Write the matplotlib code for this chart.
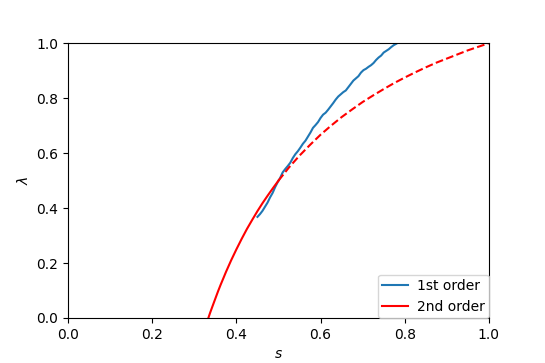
import matplotlib
matplotlib.use("Agg")
import matplotlib.pyplot as plt
import numpy as np

# 1st order (blue)
s1 = [0.450, 0.456, 0.462, 0.468, 0.474, 0.480, 0.486, 0.492, 0.498, 0.504,
      0.510, 0.516, 0.522, 0.528, 0.534, 0.540, 0.546, 0.552, 0.558, 0.564,
      0.570, 0.576, 0.582, 0.588, 0.594, 0.600, 0.606, 0.612, 0.618, 0.624,
      0.630, 0.636, 0.642, 0.648, 0.654, 0.660, 0.666, 0.672, 0.678, 0.684,
      0.690, 0.696, 0.702, 0.708, 0.714, 0.720, 0.726, 0.732, 0.738, 0.744,
      0.750, 0.756, 0.762, 0.768, 0.774, 0.780, 0.786]
lam1 = [0.368, 0.378, 0.390, 0.405, 0.420, 0.439, 0.455, 0.476, 0.494, 0.510,
        0.530, 0.542, 0.553, 0.565, 0.582, 0.596, 0.607, 0.620, 0.634, 0.645,
        0.660, 0.675, 0.692, 0.702, 0.713, 0.728, 0.740, 0.747, 0.758, 0.770,
        0.782, 0.795, 0.806, 0.814, 0.822, 0.828, 0.840, 0.852, 0.864, 0.872,
        0.880, 0.893, 0.902, 0.907, 0.914, 0.920, 0.928, 0.939, 0.948, 0.955,
        0.966, 0.972, 0.978, 0.986, 0.993, 0.998, 1.004]

# 2nd order (red), solid part and dashed part
s2_solid = [0.3333, 0.3375, 0.3425, 0.35, 0.3563, 0.3625, 0.3688, 0.375,
            0.3875, 0.40, 0.4125, 0.425, 0.4375, 0.45, 0.4625, 0.475,
            0.4875, 0.50]
lam2_solid = [0.000, 0.019, 0.040, 0.071, 0.097, 0.121, 0.144, 0.167,
              0.210, 0.250, 0.288, 0.324, 0.357, 0.389, 0.419, 0.447,
              0.474, 0.500]
s2_dash = [0.50, 0.525, 0.55, 0.575, 0.60, 0.625, 0.65, 0.675, 0.70, 0.725,
           0.75, 0.775, 0.80, 0.825, 0.85, 0.875, 0.90, 0.925, 0.95, 0.975, 1.0]
lam2_dash = [0.500, 0.548, 0.591, 0.630, 0.667, 0.700, 0.731, 0.759, 0.786,
             0.810, 0.833, 0.855, 0.875, 0.894, 0.912, 0.929, 0.944, 0.959,
             0.974, 0.987, 1.000]

fig, ax = plt.subplots(figsize=(5.45, 3.63), dpi=100)
fig.subplots_adjust(left=0.125, right=0.897, top=0.881, bottom=0.124)
ax.plot(s1, lam1, color="#1f77b4", lw=1.5, label="1st order")
ax.plot(s2_solid, lam2_solid, color="red", lw=1.5, label="2nd order")
ax.plot(s2_dash, lam2_dash, color="red", lw=1.5, ls="--")
ax.set_xlim(0, 1)
ax.set_ylim(0, 1)
ax.set_xlabel("$s$")
ax.set_ylabel(r"$\lambda$")
ax.legend(loc="lower right", borderaxespad=0, borderpad=0.3,
          handletextpad=0.6, handlelength=1.9)
fig.savefig("out.png", dpi=100)
